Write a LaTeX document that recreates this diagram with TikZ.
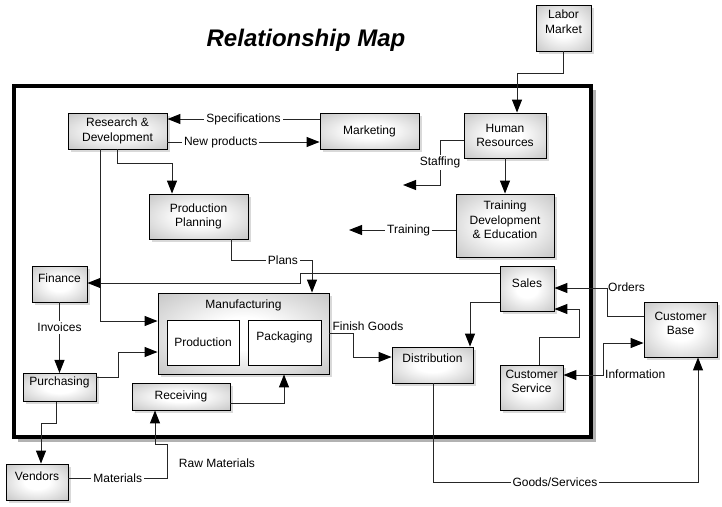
\documentclass[tikz,border=0pt]{standalone}
\usepackage{fontspec}
\setmainfont{Liberation Sans}
\usetikzlibrary{arrows.meta,shadows}
\pgfdeclareradialshading{boxglow}{\pgfpoint{0bp}{0bp}}{color(0bp)=(white); color(10bp)=(white); color(50bp)=(black!35); color(71bp)=(black!50)}

\begin{document}
\begin{tikzpicture}[x=1pt,y=-1pt,
  box/.style={draw=black,line width=0.9pt,inner sep=3pt,align=center,
    shading=boxglow,
    drop shadow={shadow xshift=2.5pt,shadow yshift=-2.5pt,opacity=0.3},
    font=\fontsize{12}{14.5}\selectfont},
  inbox/.style={draw=black,line width=0.9pt,fill=white,font=\fontsize{12}{14.5}\selectfont},
  lbl/.style={fill=white,inner sep=2pt,font=\fontsize{12}{14.5}\selectfont},
  txt/.style={inner sep=1pt,font=\fontsize{12}{14.5}\selectfont},
  link/.style={draw=black!85,line width=1pt,-{Triangle[length=13pt,width=10pt,color=black]}},
  both/.style={draw=black!85,line width=1pt,{Triangle[length=13pt,width=10pt,color=black]}-{Triangle[length=13pt,width=10pt,color=black]}}]
\useasboundingbox (0,0) rectangle (722,506);

% title and frame
\node[font=\fontsize{24}{28}\selectfont\bfseries\itshape] (title) at (306,40) {Relationship Map};
\draw[black!30,line width=3] (594,90) -- (594,440) -- (18,440);
\draw[line width=4] (14,86) rectangle (591,437);

% boxes
\node[box,minimum width=55,minimum height=46,text depth=13pt] (labor) at (563.5,28) {Labor\\Market};
\node[box,minimum width=99,minimum height=36] (rd) at (117.5,131) {Research \&\\Development};
\node[box,minimum width=99,minimum height=36] (mkt) at (369.5,131) {Marketing};
\node[box,minimum width=82,minimum height=45] (hr) at (505,135.5) {Human\\Resources};
\node[box,minimum width=98,minimum height=63,text depth=11pt] (train) at (505,225.5) {Training\\Development\\\& Education};
\node[box,minimum width=99,minimum height=45] (pp) at (198.5,216.5) {Production\\Planning};
\node[box,minimum width=55,minimum height=36,text depth=12pt] (fin) at (59.5,284) {Finance};
\node[box,minimum width=171,minimum height=81] (mfg) at (243.5,333.5) {};
\node[txt] (mfgtitle) at (243.5,305) {Manufacturing};
\node[inbox,minimum width=72,minimum height=45] (prod) at (203,342.5) {Production};
\node[inbox,minimum width=73,minimum height=45,text depth=13.5pt] (pack) at (284.5,342.5) {Packaging};
\node[box,minimum width=73,minimum height=27,text depth=13.5pt] (pur) at (59.5,387.5) {Purchasing};
\node[box,minimum width=98,minimum height=27] (rec) at (181,396.5) {Receiving};
\node[box,minimum width=62,minimum height=36,text depth=12pt] (vend) at (37,482) {Vendors};
\node[box,minimum width=54,minimum height=45,text depth=11pt] (sales) at (527,288.5) {Sales};
\node[box,minimum width=81,minimum height=36,text depth=14pt] (dist) at (432.5,365) {Distribution};
\node[box,minimum width=63,minimum height=45,text depth=12pt] (cs) at (531.5,387.5) {Customer\\Service};
\node[box,minimum width=73,minimum height=55,text depth=12pt] (cb) at (680.5,329.5) {Customer\\Base};
\coordinate (staffto) at (403,185);
\coordinate (trainto) at (349,230);

% connectors
\draw[link] (labor.south) |- (517,73) -- (517,73 |- hr.north);
\draw[link] (mkt.west |- 0,119) -- node[lbl]{Specifications} (rd.east |- 0,119);
\draw[link] (rd.east |- 0,142) -- node[lbl,pos=0.35]{New products} (mkt.west |- 0,142);
\draw[link] (rd.south -| 117,0) |- (172,163) -- (172,163 |- pp.north);
\draw[link] (rd.south -| 100,0) |- (mfg.west |- 0,321);
\draw[link] (hr.west |- 0,140) -| node[lbl,pos=0.75]{Staffing} (440,185) -- (staffto);
\draw[link] (hr.south) -- (train.north);
\draw[link] (train.west |- 0,230) -- node[lbl,pos=0.44]{Training} (trainto);
\draw[link] (pp.south -| 231,0) |- node[lbl,pos=0.82]{Plans} (312,260) -- (312,260 |- mfg.north);
\draw[link] (sales.west |- 0,273) -| (300,283) -- (fin.east |- 0,283);
\draw[link] (fin.south) -- node[lbl,pos=0.35]{Invoices} (pur.north);
\draw[link] (pur.east |- 0,377) -| (118,352) -- (mfg.west |- 0,352);
\draw[link] (rec.east |- 0,403) -| (mfg.south -| 284,0);
\draw[link] (pur.south -| 56,0) |- (41,423) -- (vend.north -| 41,0);
\draw[link] (vend.east |- 0,478) -- node[lbl]{Materials} (167,478) |- (155,444) -- (rec.south -| 155,0);
\node[txt] (rawmat) at (217,463) {Raw Materials};
\draw[link] (mfg.east |- 0,333) -| (353,357) -- (dist.west |- 0,357);
\node[txt] (finish) at (368,326) {Finish Goods};
\draw[link] (sales.west |- 0,302) -| (dist.north -| 470,0);
\draw[link] (cb.west |- 0,316) -| (607,288) -- (sales.east |- 0,288);
\node[txt,anchor=west] (orders) at (607,287) {Orders};
\draw[link] (cs.north -| 539,0) |- (579,337) |- (sales.east |- 0,309);
\draw[both] (cs.east |- 0,375) -| (603,343) -- (cb.west |- 0,343);
\node[txt,anchor=west] (info) at (604,374) {Information};
\draw[link] (dist.south -| 433,0) |- node[lbl,pos=0.73]{Goods/Services} (698,482) -- (cb.south -| 698,0);
\end{tikzpicture}
\end{document}
